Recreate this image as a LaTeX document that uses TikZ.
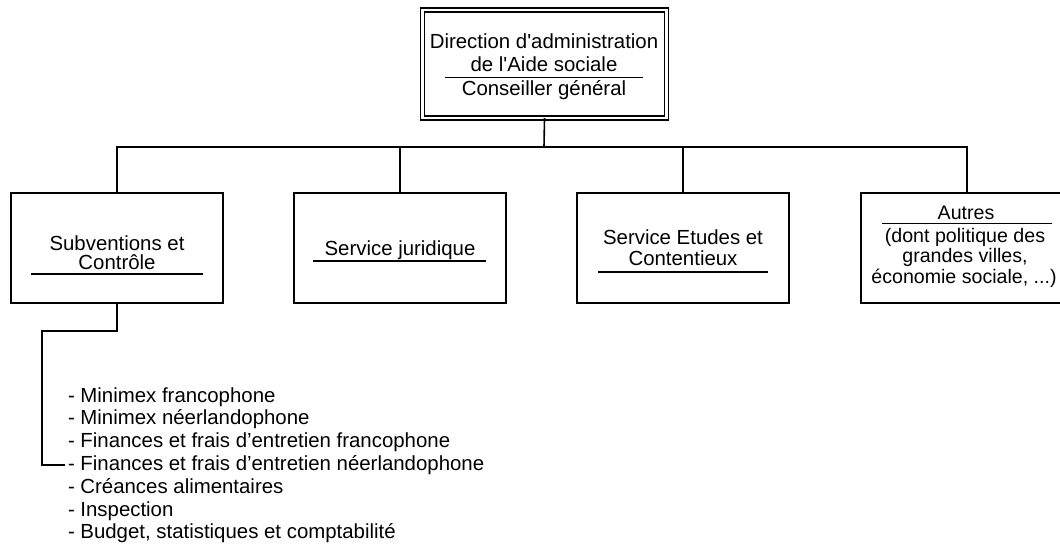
\documentclass[tikz,border=0pt]{standalone}
\usepackage{fontspec}
\setmainfont{Liberation Sans}
\begin{document}
\begin{tikzpicture}[x=1pt,y=-1pt,
  every node/.style={font=\fontsize{20.4}{23}\selectfont, inner sep=0pt, outer sep=0pt},
  unitbox/.style={draw, line width=1.6pt, minimum width=212pt, minimum height=110pt},
  conn/.style={line width=1.6pt},
  uline/.style={line width=1.2pt},
  txt/.style={anchor=base},
  smalltxt/.style={anchor=base, font=\fontsize{19.6}{23}\selectfont}]
\useasboundingbox (0,0) rectangle (1060,552);
% top box
\node[draw, double, line width=1.3pt, double distance=2.6pt, minimum width=244pt, minimum height=108pt] (top) at (544.5,64) {};
\node[txt] (t1) at (544,48) {Direction d\textquotesingle administration};
\node[txt] (t2) at (544,71) {de l\textquotesingle Aide sociale};
\node[txt] (t3) at (544,95) {Conseiller général};
\draw[uline] (445,77.5) -- (643,77.5);
% units
\node[unitbox] (b1) at (117,248) {};
\node[unitbox] (b2) at (400,248) {};
\node[unitbox] (b3) at (683,248) {};
\node[unitbox] (b4) at (967,248) {};
% bus
\coordinate (bus) at (544,147);
\coordinate (bl) at (117,147);
\coordinate (br) at (967,147);
\draw[conn] (top.south) -- (bus);
\draw[conn] (b1.north) -- (bl) -- (br) -- (b4.north);
\draw[conn] (b2.north) -- (400,147);
\draw[conn] (b3.north) -- (683,147);
% box texts
\node[txt] (s1) at (117,250) {Subventions et};
\node[txt] (s2) at (117,269) {Contrôle};
\draw[uline] (31,274) -- (203,274);
\node[txt] (j1) at (400,255) {Service juridique};
\draw[uline] (313,261) -- (486,261);
\node[txt] (e1) at (683,244) {Service Etudes et};
\node[txt] (e2) at (683,265) {Contentieux};
\draw[uline] (598,272) -- (768,272);
\node[smalltxt] (a1) at (966,219) {Autres};
\draw[uline] (882,223.5) -- (1052,223.5);
\node[smalltxt] (a2) at (965,242) {(dont politique des};
\node[smalltxt] (a3) at (965,262) {grandes villes,};
\node[smalltxt] (a4) at (964,283) {économie sociale, ...)};
% list
\foreach \i/\t in {1/{- Minimex francophone},2/{- Minimex néerlandophone},3/{- Finances et frais d’entretien francophone},4/{- Finances et frais d’entretien néerlandophone},5/{- Créances alimentaires},6/{- Inspection},7/{- Budget, statistiques et comptabilité}}{
  \node[anchor=base west] (l\i) at (68,{395+7+(\i-1)*22.83}) {\t};
}
\coordinate (h1) at (117,331);
\coordinate (h2) at (42,331);
\coordinate (h3) at (42,465);
\draw[conn] (b1.south) -- (h1) -- (h2) -- (h3) -- ([xshift=-3pt]l4.west |- h3);
\end{tikzpicture}
\end{document}
